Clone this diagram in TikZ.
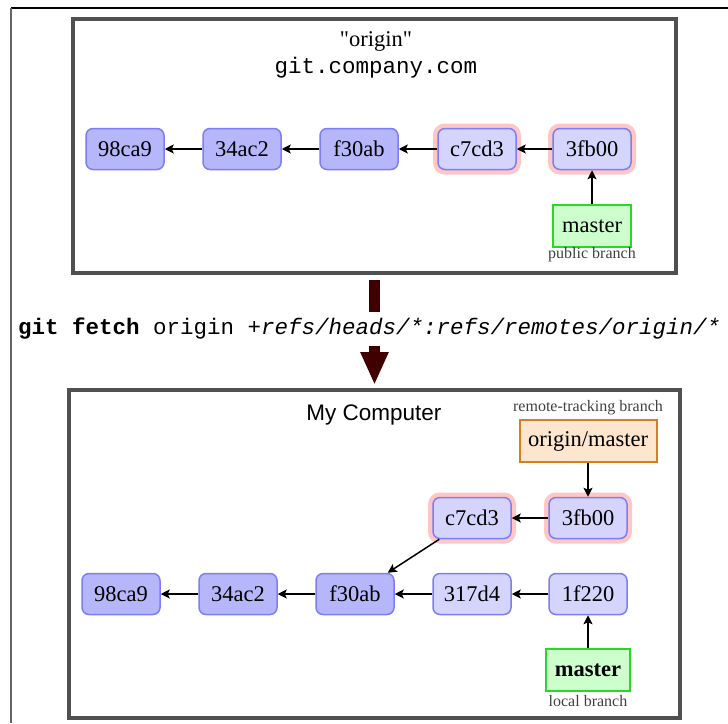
\documentclass[tikz,border=0pt]{standalone}
\usepackage{fontspec}
\setmainfont{Liberation Serif}[Ligatures=TeXOff]
\setsansfont{Liberation Sans}
\setmonofont{Liberation Mono}
\usepackage{tikz}
\usetikzlibrary{
    arrows.meta,
    calc,
    positioning
}
\definecolor{framegray}{RGB}{80,80,80}
\definecolor{commitedge}{RGB}{125,125,245}
\definecolor{commitold}{RGB}{182,182,250}
\definecolor{commitnew}{RGB}{212,212,252}
\definecolor{halopink}{RGB}{255,198,198}
\definecolor{branchedge}{RGB}{40,215,40}
\definecolor{branchfill}{RGB}{205,255,205}
\definecolor{trackedge}{RGB}{215,125,35}
\definecolor{trackfill}{RGB}{253,230,205}
\definecolor{fetchred}{RGB}{64,0,0}
\newcommand{\bigfont}{\fontsize{22.5}{27}\selectfont}
\tikzset{
    repo/.style={draw=framegray, line width=4pt},
    commit/.style={draw=commitedge, line width=1.5pt, rounded corners=7pt,
        minimum width=78pt, minimum height=41pt, inner sep=0pt, font=\bigfont},
    oldcommit/.style={commit, fill=commitold},
    newcommit/.style={commit, fill=commitnew},
    fetchedcommit/.style={newcommit, preaction={draw=halopink, line width=10pt}},
    parent/.style={-{Stealth[length=9pt, width=9pt, inset=2pt]}, line width=1.5pt},
    branch/.style={draw=branchedge, fill=branchfill, line width=2pt,
        minimum width=78pt, minimum height=42pt, inner sep=0pt, font=\bigfont},
    tracking/.style={draw=trackedge, fill=trackfill, line width=2pt,
        minimum width=137pt, minimum height=42pt, inner sep=0pt, font=\bigfont},
    note/.style={font=\fontsize{16}{18}\selectfont, text=black!75},
    fetcharrow/.style={line width=11pt, fetchred}
}

\begin{document}
\begin{tikzpicture}[x=1pt, y=-1pt]
    \useasboundingbox (0,0) rectangle (728,723);
    \draw[line width=1.5pt] (11,8) -- (728,8);
    \draw[line width=2pt, black!60] (11,8) -- (11,723);

    \node[repo, minimum width=603pt, minimum height=254pt] (remote) at (374.5,146) {};
    \node[font=\bigfont] (rname) at (376,41) {"origin"};
    \node[font=\ttfamily\bigfont] (rhost) at (376,68) {git.company.com};
    \foreach \x/\id/\st in {125/98ca9/oldcommit, 242/34ac2/oldcommit, 359/f30ab/oldcommit,
        477/c7cd3/fetchedcommit, 592/3fb00/fetchedcommit}
        \node[\st] (r\id) at (\x,149) {\id};
    \foreach \a/\b in {34ac2/98ca9, f30ab/34ac2, c7cd3/f30ab, 3fb00/c7cd3}
        \draw[parent] (r\a) -- (r\b);
    \node[branch] (rmaster) at (592,226) {master};
    \node[note] (rbranch) at (592,255) {public branch};
    \draw[parent] (rmaster) -- (r3fb00);

    \node[anchor=west, font=\ttfamily\bigfont, inner sep=0pt, minimum height=34pt] (fetch) at (18,329)
        {\textbf{git fetch} origin \textit{+refs/heads/*:refs/remotes/origin/*}};
    \node[repo, minimum width=611pt, minimum height=328pt] (local) at (374.5,554) {};
    \draw[fetcharrow] ([yshift=-5pt]remote.south) -- (remote.south |- fetch.north);
    \draw[fetcharrow, -{Triangle[width=26pt, length=33pt]}, shorten >=3pt]
        (remote.south |- fetch.south) -- (local.north);

    \node[font=\sffamily\bigfont] (lname) at (374,415) {My Computer};
    \node[note] (ltracknote) at (588,408) {remote-tracking branch};
    \node[tracking] (ltrack) at (588,441) {origin/master};
    \foreach \x/\y/\id/\st in {472/518/c7cd3/fetchedcommit, 588/518/3fb00/fetchedcommit,
        121/594/98ca9/oldcommit, 238/594/34ac2/oldcommit, 355/594/f30ab/oldcommit,
        472/594/317d4/newcommit, 588/594/1f220/newcommit}
        \node[\st] (l\id) at (\x,\y) {\id};
    \foreach \a/\b in {34ac2/98ca9, f30ab/34ac2, 317d4/f30ab, 1f220/317d4,
        3fb00/c7cd3, c7cd3/f30ab}
        \draw[parent] (l\a) -- (l\b);
    \draw[parent] (ltrack) -- (l3fb00);
    \node[branch, minimum width=84pt] (lmaster) at (588,670) {\textbf{master}};
    \node[note] (lbranch) at (588,701) {local branch};
    \draw[parent] (lmaster) -- (l1f220);
\end{tikzpicture}
\end{document}
